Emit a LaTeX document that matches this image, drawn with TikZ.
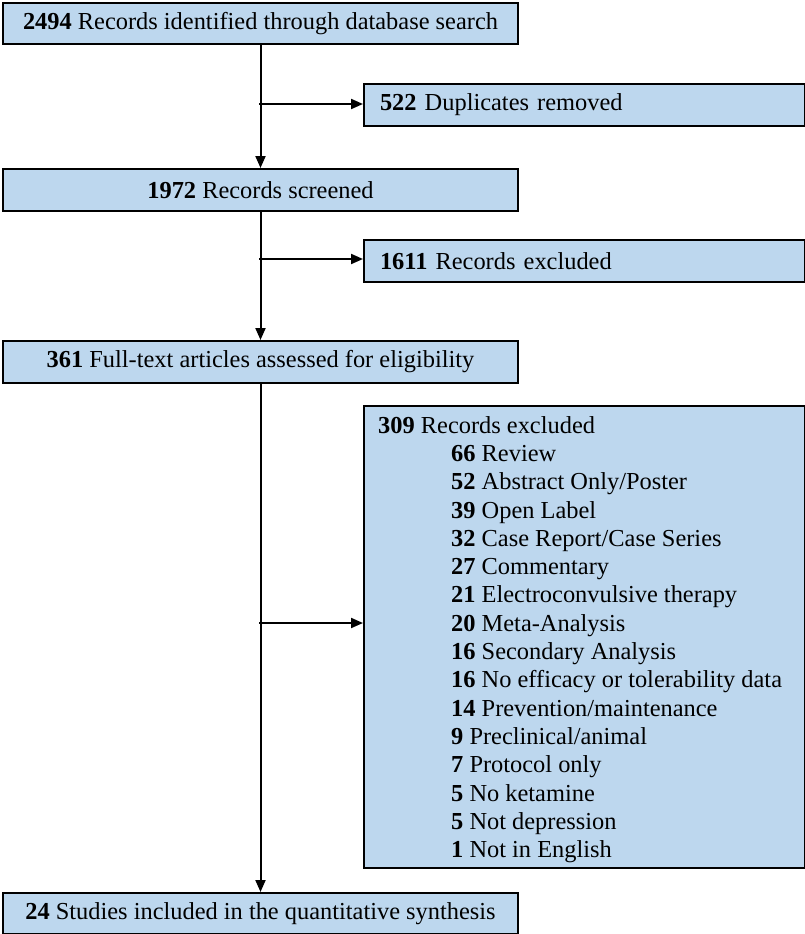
\documentclass[tikz,border=0pt]{standalone}
\usepackage{fontspec}
\setmainfont{Liberation Serif}
\usetikzlibrary{arrows.meta}
\definecolor{boxblue}{HTML}{BDD7EE}
\tikzset{
  box/.style={draw=black, line width=2pt, fill=boxblue, anchor=north west, inner sep=0pt, font=\fontsize{24.4}{28.3}\selectfont},
  conn/.style={line width=2pt, -{Triangle[length=12pt,width=10pt]}},
}
\begin{document}
\begin{tikzpicture}[x=1pt,y=-1pt]
\useasboundingbox (0,0) rectangle (805,934);
\node[box, minimum width=515pt, minimum height=41pt] (b1) at (2,2) {\textbf{2494} Records identified through database search};
\node[box, minimum width=441pt, minimum height=42pt, text width=409pt, align=left] (b2) at (363,83) {\textbf{522} Duplicates removed};
\node[box, minimum width=515pt, minimum height=42pt] (b3) at (2,168) {\textbf{1972} Records screened};
\node[box, minimum width=441pt, minimum height=42pt, text width=409pt, align=left] (b4) at (363,239) {\textbf{1611} Records excluded};
\node[box, minimum width=515pt, minimum height=42pt] (b5) at (2,340) {\textbf{361} Full-text articles assessed for eligibility};
\node[box, minimum width=441pt, minimum height=462pt] (b6) at (363,405) {};
\node[anchor=north west, inner sep=0pt, align=left, font=\fontsize{24.4}{28.3}\selectfont] (t6) at (378,416) {\textbf{309} Records excluded\\
\hspace*{73pt}\textbf{66} Review\\
\hspace*{73pt}\textbf{52} Abstract Only/Poster\\
\hspace*{73pt}\textbf{39} Open Label\\
\hspace*{73pt}\textbf{32} Case Report/Case Series\\
\hspace*{73pt}\textbf{27} Commentary\\
\hspace*{73pt}\textbf{21} Electroconvulsive therapy\\
\hspace*{73pt}\textbf{20} Meta-Analysis\\
\hspace*{73pt}\textbf{16} Secondary Analysis\\
\hspace*{73pt}\textbf{16} No efficacy or tolerability data\\
\hspace*{73pt}\textbf{14} Prevention/maintenance\\
\hspace*{73pt}\textbf{9} Preclinical/animal\\
\hspace*{73pt}\textbf{7} Protocol only\\
\hspace*{73pt}\textbf{5} No ketamine\\
\hspace*{73pt}\textbf{5} Not depression\\
\hspace*{73pt}\textbf{1} Not in English};
\node[box, minimum width=515pt, minimum height=41pt] (b7) at (2,892) {\textbf{24} Studies included in the quantitative synthesis};
\coordinate (j1) at (259,104);
\coordinate (j2) at (259,259);
\coordinate (j3) at (259,623);
\draw[conn] (b1.south) -- (b3.north);
\draw[conn] (b3.south) -- (b5.north);
\draw[conn] (b5.south) -- (b7.north);
\draw[conn] (j1) -- (b2.west |- j1);
\draw[conn] (j2) -- (b4.west |- j2);
\draw[conn] (j3) -- (b6.west |- j3);
\end{tikzpicture}
\end{document}
